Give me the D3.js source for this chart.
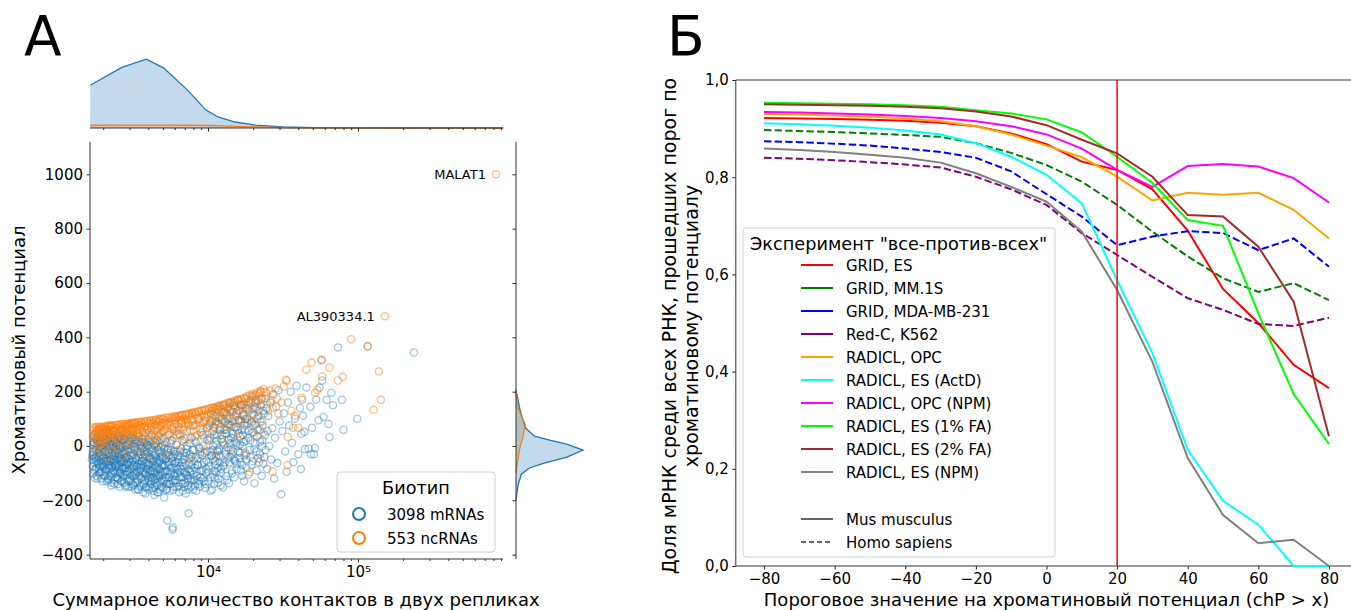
<!DOCTYPE html>
<meta charset="utf-8">
<script src="https://d3js.org/d3.v7.min.js"></script>
<style>
body { margin: 0; background: #fff; }
svg { font-family: "DejaVu Sans", sans-serif; }
.axis text { font-size: 15px; fill: #000; font-family: "DejaVu Sans", sans-serif; }
.axis line { stroke: #222; }
.axis path { display: none; }
</style>
<body></body>
<script>

// ---------- panel A data ----------
// [contacts in two replicas, chromatin potential]
var mrnaPoints = [
[1690,-35],[1715,5],[1740,40],[1760,-118],[1735,-60],[1770,-15],[1790,25],[1810,-80],[1795,-45],[1830,10],[1820,55],[1860,-25],[1845,30],[1875,-70],[1890,-5],
[1910,-95],[1925,-50],[1905,15],[1940,45],[1960,-20],[1975,-10],[1990,-65],[2010,35],[2030,-110],[2015,-40],[2045,0],[2060,20],[2070,60],[2085,-85],[2100,-30],
[2120,50],[2135,-55],[2150,-125],[2170,-15],[2160,25],[2190,-70],[2205,5],[2220,-45],[2240,40],[2255,-100],[2270,-135],[2285,-60],[2300,-20],[2310,15],[2330,55],
[2345,-5],[2360,-90],[2380,-35],[2395,30],[2410,-75],[2430,0],[2445,-115],[2460,45],[2480,-50],[2500,-140],[2515,-25],[2530,20],[2550,-65],[2570,-100],[2585,-10],
[2600,35],[2620,-45],[2640,60],[2660,-130],[2680,-80],[2700,10],[2720,-30],[2740,-55],[2760,25],[2780,-105],[2800,-15],[2820,50],[2840,-145],[2860,-70],[2880,-40],
[2900,5],[2930,-90],[2960,-20],[2980,40],[3010,-120],[3030,15],[3060,-60],[3080,-150],[3100,-35],[3130,30],[3150,55],[3180,-110],[3200,-75],[3220,20],[3250,-5],
[3280,-135],[3300,-45],[3330,10],[3360,45],[3390,-95],[3420,-25],[3440,-160],[3470,35],[3500,-65],[3530,5],[3560,-120],[3590,-80],[3620,-10],[3650,25],[3680,50],
[3710,-140],[3740,-55],[3770,-30],[3800,15],[3830,-175],[3860,-100],[3890,-20],[3920,60],[3950,-70],[3980,0],[4010,-130],[4040,-45],[4080,30],[4110,-115],[4140,-90],
[4170,-5],[4200,40],[4240,-155],[4270,-60],[4300,20],[4340,-35],[4380,-180],[4410,-125],[4450,-75],[4490,10],[4520,65],[4560,-145],[4600,-50],[4640,-15],[4680,35],
[4720,-105],[4760,-85],[4800,-160],[4840,-40],[4880,25],[4920,-125],[4960,-70],[5000,0],[5050,55],[5100,-190],[5150,-95],[5200,-30],[5250,15],[5300,-140],[5350,-274],
[5380,-60],[5420,-10],[5460,40],[5500,-115],[5560,-165],[5620,-80],[5680,-45],[5740,20],[5800,-307],[5820,-300],[5860,-130],[5900,-20],[5950,70],[6000,-100],
[6080,-60],[6150,5],[6220,-150],[6300,-35],[6380,45],[6460,-115],[6540,-75],[6620,-10],[6700,85],[6780,-140],[6860,-50],[6940,25],[7020,-95],[7100,-175],[7180,-25],
[7260,55],[7350,-120],[7420,-248],[7500,-65],[7600,10],[7700,-150],[7800,-40],[7900,75],[8000,-105],[8100,-15],[8220,35],[8350,-165],[8480,-70],[8600,95],[8730,-130],
[8860,-30],[9000,50],[9150,-90],[9300,0],[9450,110],[9600,-140],[9750,-55],[9900,25],[10050,-95],[10200,75],[10350,-20],[10500,120],[10650,-160],[10800,-50],[10950,40],
[11100,-120],[11250,90],[11400,5],[11550,135],[11700,-80],[11850,-35],[12000,60],[12150,-145],[12300,100],[12450,15],[12600,-152],[12750,150],[12900,-60],[13050,45],[13200,-110],
[13350,120],[13500,-5],[13650,80],[13800,-137],[13950,160],[14100,-40],[14250,30],[14400,-90],[14550,125],[14700,-20],[14850,70],[15000,-115],[15200,140],[15400,10],[15600,-65],
[15800,170],[16000,95],[16200,-45],[16400,35],[16600,-90],[16800,150],[17000,0],[17200,115],[17400,-130],[17600,60],[17800,175],[18000,-30],[18300,85],[18600,-105],[18900,130],
[19200,20],[19500,-70],[19800,185],[20100,50],[20400,-137],[20700,140],[21000,-20],[21300,100],[21600,165],[21900,-60],[22200,15],[22500,200],[22800,-110],[23100,75],[23400,130],
[23700,-41],[24000,40],[24400,175],[24800,-85],[25200,110],[25600,0],[26000,160],[26400,-50],[26800,65],[27200,190],[27600,-120],[28000,30],[28500,145],[29000,-63],[29500,205],
[30000,90],[30700,-178],[31300,55],[32000,120],[32700,-20],[33400,-95],[34100,160],[34800,75],[35500,200],[36300,11],[37100,-60],[38000,100],[39000,222],[40000,-30],[41000,140],
[42000,45],[41600,-85],[42500,170],[43000,111],[44000,52],[45300,215],[46800,-10],[48100,144],[49400,67],[50800,-30],[51800,-7],[52600,170],[54500,95],[55400,215],[57200,315],
[57700,241],[59000,107],[61800,170],[63600,81],[64500,33],[66400,196],[68100,150],[73600,363],[78200,170],[80000,60],[98900,100],[116000,367],[236000,344],[44300,-11],[48500,-30],
[1680,-50],[1705,-20],[1725,15],[1748,-90],[1768,-40],[1785,0],[1805,-110],[1825,-30],[1840,35],[1858,-55],[1880,-85],[1898,20],[1915,-35],[1932,-5],[1948,-120],
[1965,25],[1982,-75],[1998,-45],[2020,10],[2040,-95],[2055,-20],[2078,40],[2095,-60],[2112,-130],[2128,-5],[2145,20],[2165,-80],[2182,-35],[2198,45],[2215,-110],
[2232,0],[2250,-50],[2265,-145],[2280,30],[2295,-80],[2318,-40],[2338,5],[2352,-125],[2370,-60],[2388,15],[2402,-100],[2420,-15],[2438,40],[2455,-70],[2470,-40],
[2490,-120],[2508,5],[2525,-85],[2545,-30],[2562,30],[2578,-150],[2595,-55],[2612,-5],[2632,-95],[2650,25],[2670,-60],[2690,-115],[2710,-20],[2730,40],[2750,-80],
[2770,-135],[2790,-45],[2810,0],[2830,-95],[2850,35],[2870,-120],[2890,-60],[2915,-10],[2945,-150],[2970,-70],[2995,20],[3020,-100],[3045,-35],[3070,-130],[3090,0],
[3115,-80],[3140,-50],[3165,40],[3190,-145],[3210,-15],[3235,-100],[3265,-60],[3290,25],[3315,-120],[3345,-75],[3375,-20],[3405,-160],[3430,-40],[3455,15],[3485,-110],
[3515,-85],[3545,-30],[3575,-145],[3605,-55],[3635,0],[3665,-100],[3695,-170],[3725,-75],[3755,10],[3785,-125],[3815,-40],[3845,-155],[3875,-60],[3905,5],[3935,-110],
[3965,-85],[3995,-25],[4025,-160],[4060,-65],[4095,-100],[4125,15],[4155,-140],[4185,-50],[4220,-120],[4255,-20],[4285,-90],[4320,-165],[4360,-55],[4395,0],[4430,-100],
[4470,-135],[4505,-45],[4545,-80],[4585,20],[4620,-110],[4660,-170],[4700,-60],[4740,-25],[4780,-130],[4820,-95],[4860,-5],[4900,-150],[4940,-40],[4980,-105],[5030,30],
[5080,-75],[5130,-125],[5180,-50],[5230,-160],[5280,-90],[5330,-15],[5400,-130],[5470,-70],[5530,-35],[5600,-140],[5660,10],[5720,-95],[5780,-55],[5850,-160],[5920,-110],
[5980,-30],[6050,-125],[6120,-80],[6190,40],[6260,-100],[6340,-60],[6420,-170],[6500,-20],[6580,-135],[6660,-85],[6740,20],[6820,-115],[6900,-75],[6980,-150],[7060,-40],
[7150,-105],[7240,0],[7330,-145],[7440,-85],[7560,-30],[7660,-120],[7760,30],[7860,-90],[7960,-160],[8060,-55],[8160,-125],[8280,15],[8400,-95],[8540,-45],[8660,-140],
[8800,-10],[8940,-115],[9080,-70],[9220,40],[9380,-130],[9520,-25],[9680,-100],[9840,65],[10100,-60],[10280,30],[10420,-115],[10560,90],[10720,-15],[10880,55],[11020,-90],
[11180,140],[11320,-40],[11480,20],[11640,-135],[11780,105],[11920,-10],[12080,70],[12220,-100],[12380,40],[12520,125],[12680,-70],[12820,5],[12980,90],[13120,-30],[13280,60],
[13420,-125],[13580,140],[13720,25],[13880,-60],[14020,105],[14180,-15],[14320,75],[14480,-100],[14620,45],[14780,150],[14920,-50],[15100,15],[15300,110],[15500,-85],[15700,60],
[15900,-20],[16100,130],[16300,5],[16500,-60],[16700,90],[16900,-110],[17100,40],[17300,155],[17500,-35],[17700,100],[17900,20],[18100,-80],[18400,135],[18700,55],[19000,-15],
[19300,165],[19600,85],[19900,-55],[20200,115],[20500,10],[20800,160],[21100,-90],[21400,60],[21800,130],[22100,-30],[22400,90],[22700,170],[23000,20],[23300,-65],[23600,120],
[24200,-15],[24600,140],[25000,55],
[1700,-75],[1712,-100],[1722,-30],[1738,10],[1752,-45],[1762,30],[1778,-85],[1788,-55],[1802,-10],[1812,20],[1828,-120],[1835,-65],[1852,5],[1868,-40],[1878,-100],
[1895,-15],[1908,-75],[1918,30],[1930,-55],[1945,-95],[1955,0],[1970,-35],[1985,-130],[1995,15],[2008,-80],[2025,-55],[2035,-20],[2050,25],[2065,-110],[2082,-50],
[2090,10],[2108,-90],[2118,-40],[2132,35],[2142,-70],[2158,-120],[2175,-25],[2185,10],[2200,-85],[2212,-55],[2228,-10],[2245,30],[2260,-75],[2275,-115],[2290,-30],
[2305,0],[2325,-95],[2342,-50],[2355,25],[2375,-140],[2392,-70],[2405,-25],[2425,-55],[2440,10],[2465,-90],[2485,-15],[2505,-120],[2520,35],[2540,-75],[2558,-45],
[2575,0],[2590,-100],[2608,-30],[2625,20],[2645,-130],[2665,-50],[2685,-85],[2702,-5],[2725,-110],[2745,25],[2765,-60],[2785,-25],[2805,-150],[2825,-80],[2845,10],
[2865,-45],[2895,-105],[2920,-65],[2950,5],[2975,-130],[3000,-50],[3025,-85],[3050,30],[3075,-15],[3105,-110],[3125,-70],[3155,-140],[3175,-30],[3205,10],[3230,-90],
[3260,-160],[3285,-45],[3310,-105],[3340,-10],[3370,-75],[3400,-130],[3425,20],[3450,-55],[3480,-90],[3510,-150],[3540,-20],[3570,-70],[3600,-115],[3630,15],[3660,-45],
[3690,-95],[3720,-135],[3750,-20],[3780,-65],[3810,-105],[3840,-5],[3870,-150],[3900,-85],[3930,-40],[3960,25],[3990,-120],[4020,-70],[4050,-10],[4085,-150],[4115,-45],
[4150,-95],[4190,-130],[4230,-15],[4260,-80],[4295,-115],[4330,-50],[4370,5],[4400,-150],[4440,-95],[4480,-30],[4530,-120],[4570,-65],[4610,-170],[4650,-85],[4690,-5],
[4730,-140],[4770,-55],[4810,-110],[4850,-20],[4890,-75],[4930,-155],[4970,-45],[5010,-95],[5060,-130],[5110,-10],[5160,-70],[5210,-115],[5270,-45],[5320,-160],[5370,-95],
[5430,-25],[5490,-140],[5540,-60],[5610,-100],[5670,-15],[5730,-125],[5790,-80],[5840,-40],[5910,-150],[5970,-65],[6030,-110],[6100,-20],[6170,-135],[6240,-85],[6320,-50],
[6400,-150],[6480,-95],[6560,-40],[6640,-115],[6720,-60],[6800,-165],[6880,-25],[6960,-100],[7040,-135],[7120,-70],[7200,-10],[7290,-110],[7380,-160],[7480,-45],[7580,-95],
[7680,-130],[7780,-70],[7880,-15],[7980,-125],[8080,-80],[8200,-145],[8320,-40],[8440,-110],[8560,-70],[8700,-5],[8840,-150],[8980,-90],[9120,-35],[9260,-120],[9400,-60],
[9560,-155],[9720,-85],[9880,-20],[10040,-130],[10220,-75],[10400,-165],[10600,-35],[10780,-105],[10980,-140],[11160,-55],[11360,-95],[11560,-15],[11760,-120],[11960,-60],[12180,-85],
[10150,20],[10330,85],[10480,-35],[10640,130],[10820,0],[10990,70],[11140,-70],[11300,110],[11460,40],[11620,-20],[11800,80],[11980,145],[12140,-40],[12320,25],[12500,95],
[12660,-75],[12840,60],[13000,125],[13160,-15],[13320,45],[13500,100],[13680,-45],[13860,75],[14040,10],[14220,135],[14400,-30],[14580,90],[14760,30],[14940,160],[15150,-55],
[15350,70],[15550,120],[15750,0],[15950,45],[16150,95],[16350,-25],[16550,150],[16750,60],[16950,-70],[17150,110],[17350,15],[17550,75],[17750,140],[17950,-50],[18250,100],
[18550,30],[18850,160],[19150,-40],[19450,90],[19750,50],[20050,135],[20350,-10],[20650,80],[20950,170],[21250,35],[21550,-45],[21850,110],[22150,60],[22550,150],[22950,0]
];

var ncrnaPoints = [
[1720,68],[1740,40],[1760,15],[1780,-10],[1800,55],[1815,25],[1830,70],[1850,-30],[1870,60],[1885,5],[1900,35],[1920,72],[1935,45],[1950,-15],[1970,20],
[1990,50],[2010,65],[2030,0],[2050,30],[2070,73],[2090,55],[2110,-40],[2130,62],[2150,10],[2170,40],[2190,75],[2210,48],[2230,70],[2250,-20],[2270,25],
[2300,76],[2330,58],[2360,35],[2390,5],[2420,66],[2450,42],[2480,78],[2510,-5],[2540,52],[2570,80],[2600,20],[2630,72],[2660,35],[2690,60],[2720,-35],
[2750,82],[2780,45],[2810,10],[2840,68],[2870,58],[2900,80],[2930,28],[2960,75],[2990,50],[3020,-15],[3060,85],[3100,64],[3140,38],[3180,83],[3220,12],
[3260,87],[3300,55],[3340,70],[3380,-25],[3420,45],[3460,78],[3500,22],[3550,88],[3600,66],[3650,30],[3700,2],[3750,72],[3800,90],[3850,48],[3900,-45],
[3950,60],[4000,85],[4060,15],[4120,92],[4180,70],[4240,38],[4300,-8],[4360,80],[4420,55],[4480,94],[4540,25],[4600,68],[4660,88],[4720,40],[4780,97],
[4840,75],[4900,10],[4960,52],[5020,99],[5100,85],[5180,62],[5260,-30],[5340,78],[5420,101],[5500,45],[5580,20],[5660,90],[5740,65],[5820,104],[5900,30],
[5980,82],[6060,106],[6150,55],[6240,-15],[6330,70],[6420,108],[6510,40],[6600,92],[6700,111],[6800,60],[6900,15],[7000,85],[7100,114],[7200,30],[7300,100],
[7400,75],[7500,117],[7600,-50],[7720,92],[7840,120],[7960,55],[8080,20],[8200,123],[8330,80],[8460,40],[8600,126],[8740,100],[8880,65],[9020,-20],[9160,130],
[9300,90],[9450,30],[9600,133],[9750,105],[9900,70],[10050,0],[10200,137],[10400,95],[10600,50],[10800,140],[11000,110],[11200,80],[11400,-35],[11600,143],[11800,100],
[12000,60],[12200,25],[12400,147],[12600,118],[12800,85],[13000,151],[13250,110],[13500,70],[13750,-10],[14000,156],[14250,125],[14500,90],[14750,160],[15000,105],[15300,65],
[15600,30],[15900,166],[16200,132],[16500,100],[16800,170],[17100,120],[17400,80],[17700,-25],[18000,175],[18400,140],[18800,95],[19200,181],[19600,120],[20000,75],[20400,40],
[20800,190],[21200,145],[21600,110],[22000,194],[22500,155],[23000,90],[23500,50],[24000,200],[24600,160],[25200,130],[25800,205],[26400,170],[27000,140],[28200,212],
[28800,175],[29500,120],[31000,160],[32000,219],[33000,244],[33500,240],[34000,33],[36000,130],[37000,67],[38000,111],[40000,67],[42000,178],
[33900,-70],[26900,-93],[22400,-48],[19000,-96],
[45300,281],[49000,307],[51800,196],[53600,207],[57200,318],[57700,256],[64500,289],[73600,241],[79100,255],[90000,393],[116000,367],[127000,133],[138000,274],[142000,170],[151000,478],[832000,1000],
[1710,58],[1730,30],[1755,65],[1775,48],[1795,70],[1822,38],[1838,62],[1865,20],[1880,68],[1895,52],[1928,62],[1945,28],[1962,70],[1980,42],[2000,66],
[2022,15],[2040,58],[2062,72],[2080,45],[2102,68],[2125,30],[2140,74],[2160,55],[2180,62],[2200,38],[2220,72],[2242,50],[2262,75],[2290,60],[2320,40],
[2340,70],[2370,52],[2400,76],[2430,28],[2460,64],[2490,77],[2520,45],[2550,70],[2580,58],[2610,78],[2645,42],[2675,68],[2705,80],[2735,55],[2765,30],
[2795,74],[2825,81],[2855,48],[2885,66],[2915,82],[2945,36],[2975,70],[3005,83],[3040,56],[3080,75],[3120,84],[3160,50],[3200,68],[3240,85],[3280,40],
[3320,78],[3360,86],[3400,60],[3440,88],[3480,48],[3520,74],[3570,89],[3620,55],[3670,82],[3720,90],[3770,38],[3820,72],[3870,92],[3920,65],[3970,93],
[4030,48],[4090,80],[4150,95],[4210,60],[4270,88],[4330,96],[4390,30],[4450,76],[4510,98],[4570,55],[4640,92],[4700,99],[4760,70],[4820,45],[4880,100],
[4950,85],[5060,103],[5140,72],[5220,95],[5300,104],[5380,55],[5460,88],[5540,106],[5620,75],[5700,100],[5780,108],[5860,62],[5940,95],[6020,110],[6110,80],
[6200,104],[6290,111],[6380,58],[6470,96],[6560,113],[6650,82],[6750,115],[6850,100],[6950,70],[7050,116],[7150,95],[7250,118],[7350,85],[7450,120],[7550,60],
[7650,110],[7780,122],[7900,95],[8020,124],[8140,75],[8260,115],[8400,126],[8540,100],[8680,128],[8820,85],[8960,130],[9100,112],[9250,60],[9400,132],[9550,95],
[9700,135],[9850,118],[10000,80],[10150,137],[10350,120],[10550,140],[10750,100],[10950,143],[11150,125],[11350,90],[11550,146],[11750,130],[11950,150],[12150,110],[12350,135],
[12550,152],[12750,120],[13100,156],[13400,140],[13700,160],[14100,130],[14400,163],[14700,145],[15100,167],[15500,120],[15800,170],[16200,155],[16600,174],[17000,140],[17400,178],
[17800,160],[18200,184],[18600,150],[19000,188],[19400,170],[19800,192],[20300,180],[20800,160],[21300,198],[21800,185],[22300,203],[22800,175],[23500,210],[24500,195]
];

var labelled = [{name: "MALAT1", count: 832000, pot: 1000}, {name: "AL390334.1", count: 151000, pot: 478}];
var biotypes = ["3098 mRNAs", "553 ncRNAs"];
var potTicks = [-400, -200, 0, 200, 400, 600, 800, 1000];

// marginal densities (relative heights)
var countGrid = [1640, 2660, 3880, 5070, 7300, 9690, 11700, 15100, 20700, 31600, 50000, 150000, 930000];
var mrnaCountDens = [0.62, 0.88, 1.0, 0.87, 0.55, 0.26, 0.16, 0.087, 0.043, 0.015, 0.005, 0, 0];
var ncrnaCountDens = [0.04, 0.042, 0.043, 0.042, 0.04, 0.038, 0.035, 0.025, 0.015, 0.006, 0.002, 0.001, 0];
var mrnaPotGrid = [-200, -144, -104, -81, -63, -41, -15, 7, 22, 37, 67, 133, 207];
var mrnaPotDens = [0, 0.03, 0.08, 0.2, 0.42, 0.76, 1.0, 0.76, 0.5, 0.27, 0.14, 0.06, 0];
var ncrnaPotGrid = [-100, -63, -30, -4, 30, 78, 110, 144, 200];
var ncrnaPotDens = [0, 0.02, 0.04, 0.06, 0.1, 0.14, 0.08, 0.02, 0];

// ---------- panel B data ----------
var thresholds = [-80, -70, -60, -50, -40, -30, -20, -10, 0, 10, 20, 30, 40, 50, 60, 70, 80];
var experiments = ["GRID, ES", "GRID, MM.1S", "GRID, MDA-MB-231", "Red-C, K562", "RADICL, OPC",
  "RADICL, ES (ActD)", "RADICL, OPC (NPM)", "RADICL, ES (1% FA)", "RADICL, ES (2% FA)", "RADICL, ES (NPM)"];
var gridEs     = [0.922,0.921,0.920,0.918,0.916,0.912,0.905,0.890,0.868,0.832,0.815,0.775,0.690,0.570,0.500,0.414,0.366];
var gridMm1s   = [0.897,0.895,0.893,0.890,0.887,0.883,0.870,0.850,0.825,0.791,0.743,0.688,0.637,0.592,0.564,0.582,0.547];
var gridMda    = [0.874,0.872,0.869,0.865,0.859,0.852,0.840,0.812,0.765,0.719,0.660,0.678,0.689,0.685,0.650,0.674,0.616];
var redcK562   = [0.840,0.838,0.835,0.831,0.826,0.820,0.801,0.775,0.743,0.685,0.640,0.595,0.551,0.527,0.498,0.494,0.511];
var radOpc     = [0.930,0.929,0.927,0.925,0.921,0.915,0.905,0.888,0.865,0.841,0.801,0.752,0.768,0.764,0.768,0.733,0.674];
var radEsActd  = [0.911,0.909,0.906,0.902,0.896,0.888,0.870,0.842,0.805,0.746,0.588,0.438,0.239,0.134,0.085,0.0,0.0];
var radOpcNpm  = [0.934,0.933,0.931,0.929,0.926,0.922,0.915,0.905,0.888,0.859,0.815,0.780,0.823,0.827,0.822,0.798,0.748];
var radEs1fa   = [0.953,0.952,0.951,0.950,0.948,0.945,0.938,0.931,0.919,0.892,0.842,0.788,0.712,0.700,0.520,0.354,0.251];
var radEs2fa   = [0.950,0.949,0.948,0.947,0.945,0.942,0.935,0.925,0.907,0.877,0.849,0.801,0.722,0.719,0.657,0.544,0.267];
var radEsNpm   = [0.859,0.856,0.852,0.846,0.840,0.830,0.808,0.780,0.750,0.688,0.568,0.420,0.222,0.105,0.047,0.054,0.0];
var seriesValues = [gridEs, gridMm1s, gridMda, redcK562, radOpc, radEsActd, radOpcNpm, radEs1fa, radEs2fa, radEsNpm];
var seriesColors = ["#ff0000", "#008000", "#0000ff", "#800080", "#ffa500", "#00ffff", "#ff00ff", "#00ff00", "#a52a2a", "#808080"];
var seriesHuman = [false, true, true, true, false, false, false, false, false, false];
var shareTicks = [0, 0.2, 0.4, 0.6, 0.8, 1.0];
var thresholdTicks = [-80, -60, -40, -20, 0, 20, 40, 60, 80];
var cutoff = 20;

var blue = "#1f77b4", orange = "#ff7f0e";

var svg = d3.select("body").append("svg")
    .attr("width", 1351)
    .attr("height", 610);

svg.append("rect").attr("width", 1351).attr("height", 610).attr("fill", "#fff");

// ===================== PANEL A =====================
var xA = d3.scaleLog().domain([1633, 927000]).range([90, 503]);
var yA = d3.scaleLinear().domain([-416, 1119]).range([559, 142]);
var yTop = d3.scaleLinear().domain([0, 1.06]).range([128, 55]);
var xRight = d3.scaleLinear().domain([0, 1]).range([516, 583]);

var minorCounts = [];
[1000, 10000, 100000].forEach(function(b) {
  for (var k = 2; k <= 9; k++) if (b * k > 1633 && b * k < 927000) minorCounts.push(b * k);
});

// scatter axes
svg.append("g").attr("class", "axis")
    .attr("transform", "translate(0,559)")
    .call(d3.axisBottom(xA).tickValues([10000, 100000]).tickSize(3.5).tickSizeOuter(0).tickPadding(3.5)
      .tickFormat(function(d) { return d === 10000 ? "10\u2074" : "10\u2075"; }));
svg.append("g").attr("class", "axis")
    .attr("transform", "translate(0,559)")
    .call(d3.axisBottom(xA).tickValues(minorCounts).tickSize(2).tickFormat(""));
svg.append("g").attr("class", "axis")
    .attr("transform", "translate(90,0)")
    .call(d3.axisLeft(yA).tickValues(potTicks).tickSize(3.5).tickSizeOuter(0).tickPadding(3.5)
      .tickFormat(d3.format("d")));
svg.selectAll(".axis line").attr("stroke-width", 0.9);

svg.append("line").attr("x1", 90).attr("x2", 90).attr("y1", 142).attr("y2", 559).attr("stroke", "#333");
svg.append("line").attr("x1", 90).attr("x2", 503).attr("y1", 559).attr("y2", 559).attr("stroke", "#333");

// points
var pts = svg.append("g");
pts.selectAll(".m").data(mrnaPoints).enter().append("circle")
    .attr("cx", function(d) { return xA(d[0]); })
    .attr("cy", function(d) { return yA(d[1]); })
    .attr("r", 3.6)
    .attr("fill", "none")
    .attr("stroke", blue)
    .attr("stroke-width", 1.3)
    .attr("stroke-opacity", 0.42);
pts.selectAll(".n").data(ncrnaPoints).enter().append("circle")
    .attr("cx", function(d) { return xA(d[0]); })
    .attr("cy", function(d) { return yA(d[1]); })
    .attr("r", 3.6)
    .attr("fill", "none")
    .attr("stroke", orange)
    .attr("stroke-width", 1.3)
    .attr("stroke-opacity", 0.5);

svg.selectAll(".lab").data(labelled).enter().append("text")
    .attr("x", function(d) { return xA(d.count) - 10; })
    .attr("y", function(d) { return yA(d.pot) + 5; })
    .attr("text-anchor", "end")
    .style("font-size", "13px")
    .text(function(d) { return d.name; });

// top marginal
var areaTop = d3.area()
    .x(function(d) { return xA(d[0]); })
    .y0(yTop(0))
    .y1(function(d) { return yTop(d[1]); });
var mTop = countGrid.map(function(c, i) { return [c, mrnaCountDens[i]]; });
var nTop = countGrid.map(function(c, i) { return [c, ncrnaCountDens[i]]; });
svg.append("path").datum(mTop).attr("d", areaTop).attr("fill", blue).attr("fill-opacity", 0.27);
svg.append("path").datum(nTop).attr("d", areaTop).attr("fill", orange).attr("fill-opacity", 0.27);
svg.append("path").datum(mTop).attr("d", areaTop.lineY1()).attr("fill", "none").attr("stroke", blue).attr("stroke-width", 1.3);
svg.append("path").datum(nTop).attr("d", areaTop.lineY1()).attr("fill", "none").attr("stroke", orange).attr("stroke-width", 1.3);
svg.append("g").attr("class", "axis").attr("transform", "translate(0,128)")
    .call(d3.axisBottom(xA).tickValues([10000, 100000]).tickSize(3.5).tickFormat(""));
svg.append("g").attr("class", "axis").attr("transform", "translate(0,128)")
    .call(d3.axisBottom(xA).tickValues(minorCounts).tickSize(2).tickFormat(""));
svg.append("line").attr("x1", 90).attr("x2", 503).attr("y1", 128).attr("y2", 128).attr("stroke", "#333");

// right marginal
var areaRight = d3.area()
    .y(function(d) { return yA(d[0]); })
    .x0(xRight(0))
    .x1(function(d) { return xRight(d[1]); });
var mRight = mrnaPotGrid.map(function(p, i) { return [p, mrnaPotDens[i]]; });
var nRight = ncrnaPotGrid.map(function(p, i) { return [p, ncrnaPotDens[i]]; });
svg.append("path").datum(mRight).attr("d", areaRight).attr("fill", blue).attr("fill-opacity", 0.27);
svg.append("path").datum(nRight).attr("d", areaRight).attr("fill", "#8a8a70").attr("fill-opacity", 0.3);
svg.append("path").datum(mRight).attr("d", areaRight.lineX1()).attr("fill", "none").attr("stroke", blue).attr("stroke-width", 1.3);
svg.append("path").datum(nRight).attr("d", areaRight.lineX1()).attr("fill", "none").attr("stroke", orange).attr("stroke-width", 1.3);
svg.append("g").attr("class", "axis").attr("transform", "translate(516,0)")
    .call(d3.axisLeft(yA).tickValues(potTicks).tickSize(3.5).tickFormat(""));
svg.append("line").attr("x1", 516).attr("x2", 516).attr("y1", 142).attr("y2", 559).attr("stroke", "#333");

// legend A
var legA = svg.append("g").attr("transform", "translate(337,472)");
legA.append("rect").attr("width", 158).attr("height", 80).attr("rx", 3)
    .attr("fill", "#fff").attr("fill-opacity", 0.8).attr("stroke", "#d0d0d0");
legA.append("text").attr("x", 79).attr("y", 21.5).attr("text-anchor", "middle")
    .style("font-size", "17.7px").text("Биотип");
legA.selectAll(".it").data(biotypes).enter().append("g")
  .each(function(d, i) {
    var g = d3.select(this).attr("transform", "translate(0," + (42 + i * 24) + ")");
    g.append("circle").attr("cx", 22).attr("cy", 0).attr("r", 6)
      .attr("fill", "none").attr("stroke", i === 0 ? blue : orange).attr("stroke-width", 2);
    g.append("text").attr("x", 50).attr("y", 5.5).style("font-size", "15px").text(d);
  });

// labels A
svg.append("text").attr("x", 296).attr("y", 606).attr("text-anchor", "middle")
    .style("font-size", "18px").text("Суммарное количество контактов в двух репликах");
svg.append("text").attr("transform", "translate(25,350) rotate(-90)").attr("text-anchor", "middle")
    .style("font-size", "18px").text("Хроматиновый потенциал");
svg.append("text").attr("x", 24).attr("y", 55).style("font-size", "55px").text("А");

// ===================== PANEL B =====================
var xB = d3.scaleLinear().domain([-88, 88]).range([735.8, 1357.2]);
var yB = d3.scaleLinear().domain([0, 1]).range([566, 80]);

svg.append("g").attr("class", "axis")
    .attr("transform", "translate(0,566)")
    .call(d3.axisBottom(xB).tickValues(thresholdTicks).tickSize(3.5).tickSizeOuter(0).tickPadding(3.5));
svg.append("g").attr("class", "axis")
    .attr("transform", "translate(" + xB(-88) + ",0)")
    .call(d3.axisLeft(yB).tickValues(shareTicks).tickSize(3.5).tickSizeOuter(0).tickPadding(3.5)
      .tickFormat(function(d) { return d3.format(".1f")(d).replace(".", ","); }));

svg.append("line").attr("x1", xB(-88)).attr("x2", xB(-88)).attr("y1", 80).attr("y2", 566).attr("stroke", "#333");
svg.append("line").attr("x1", xB(-88)).attr("x2", xB(88)).attr("y1", 80).attr("y2", 80).attr("stroke", "#333");
svg.append("line").attr("x1", xB(-88)).attr("x2", xB(88)).attr("y1", 566).attr("y2", 566).attr("stroke", "#333");

var lineB = d3.line()
    .x(function(d, i) { return xB(thresholds[i]); })
    .y(function(d) { return yB(d); });

svg.append("g").selectAll("path").data(seriesValues).enter().append("path")
    .attr("d", lineB)
    .attr("fill", "none")
    .attr("stroke", function(d, i) { return seriesColors[i]; })
    .attr("stroke-width", 2)
    .attr("stroke-dasharray", function(d, i) { return seriesHuman[i] ? "7.4,3.2" : null; });

svg.append("line")
    .attr("x1", xB(cutoff)).attr("x2", xB(cutoff))
    .attr("y1", yB(0)).attr("y2", yB(1))
    .attr("stroke", "#ff0000").attr("stroke-width", 1.5);

// legend B
var legB = svg.append("g").attr("transform", "translate(743,228)");
legB.append("rect").attr("width", 312).attr("height", 329).attr("rx", 3)
    .attr("fill", "#fff").attr("fill-opacity", 0.8).attr("stroke", "#d0d0d0");
legB.append("text").attr("x", 7).attr("y", 22).style("font-size", "17.7px")
    .text("Эксперимент \"все-против-всех\"");
legB.selectAll(".it").data(experiments).enter().append("g")
  .each(function(d, i) {
    var g = d3.select(this).attr("transform", "translate(0," + (37 + i * 23) + ")");
    g.append("line").attr("x1", 58).attr("x2", 90).attr("y1", 0).attr("y2", 0)
      .attr("stroke", seriesColors[i]).attr("stroke-width", 2);
    g.append("text").attr("x", 103).attr("y", 5.5).style("font-size", "15px").text(d);
  });
var species = [{name: "Mus musculus", dash: null}, {name: "Homo sapiens", dash: "5,3"}];
legB.selectAll(".sp").data(species).enter().append("g")
  .each(function(d, i) {
    var g = d3.select(this).attr("transform", "translate(0," + (291 + i * 23) + ")");
    g.append("line").attr("x1", 58).attr("x2", 90).attr("y1", 0).attr("y2", 0)
      .attr("stroke", "#333").attr("stroke-width", 1.5).attr("stroke-dasharray", d.dash);
    g.append("text").attr("x", 103).attr("y", 5.5).style("font-size", "15px").text(d.name);
  });

// labels B
svg.append("text").attr("x", 1046.5).attr("y", 606).attr("text-anchor", "middle")
    .style("font-size", "18px").text("Пороговое значение на хроматиновый потенциал (chP > x)");
svg.append("text").attr("transform", "translate(676,326) rotate(-90)").attr("text-anchor", "middle")
    .style("font-size", "19px").text("Доля мРНК среди всех РНК, прошедших порог по");
svg.append("text").attr("transform", "translate(698,326) rotate(-90)").attr("text-anchor", "middle")
    .style("font-size", "19px").text("хроматиновому потенциалу");
svg.append("text").attr("x", 667).attr("y", 55).style("font-size", "55px").text("Б");

</script>
